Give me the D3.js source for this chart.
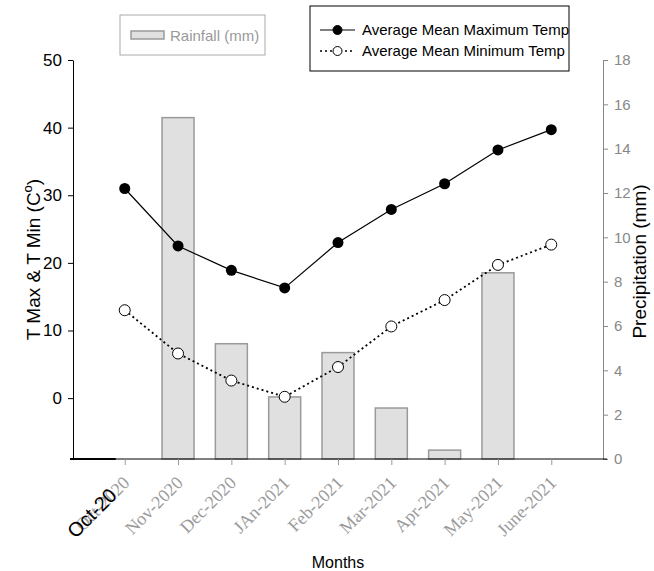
<!DOCTYPE html>
<html>
<head>
<meta charset="utf-8">
<script src="https://cdn.jsdelivr.net/npm/d3@7"></script>
<style>
  body { margin: 0; background: #fff; }
  svg { display: block; font-family: "Liberation Sans", Arial, sans-serif; }
</style>
</head>
<body>
<div id="chart"></div>
<script>
// data
const months = ['Oct-2020', 'Nov-2020', 'Dec-2020', 'JAn-2021', 'Feb-2021', 'Mar-2021', 'Apr-2021', 'May-2021', 'June-2021'];
const rainfall = [0, 15.4, 5.2, 2.8, 4.8, 2.3, 0.4, 8.4, 0];
const tMax = [31.0, 22.5, 18.9, 16.3, 23.0, 27.9, 31.7, 36.7, 39.7];
const tMin = [13.0, 6.6, 2.6, 0.2, 4.6, 10.6, 14.5, 19.7, 22.7];
const tempTicks = [0, 10, 20, 30, 40, 50];
const rainTicks = [0, 2, 4, 6, 8, 10, 12, 14, 16, 18];

const W = 654, H = 571;
const plot = { left: 73, right: 603, top: 60, bottom: 459 };
const BAR_W = 32;

const svg = d3.select('#chart').append('svg')
  .attr('width', W)
  .attr('height', H);

const x = d3.scalePoint()
  .domain(months)
  .range([plot.left, plot.right])
  .padding(0.97);

const yTemp = d3.scaleLinear().domain([-9, 50]).range([plot.bottom, plot.top]);
const yRain = d3.scaleLinear().domain([0, 18]).range([plot.bottom, plot.top]);

// bars (right axis)
svg.append('g')
  .selectAll('rect')
  .data(rainfall.map((v, i) => ({ m: months[i], v })).filter(d => d.v > 0))
  .join('rect')
  .attr('x', d => x(d.m) - BAR_W / 2)
  .attr('y', d => yRain(d.v))
  .attr('width', BAR_W)
  .attr('height', d => plot.bottom - yRain(d.v))
  .attr('fill', '#e0e0e0')
  .attr('stroke', '#9a9a9a')
  .attr('stroke-width', 1.5);

// left axis
const leftAxis = svg.append('g')
  .attr('transform', `translate(${plot.left},0)`)
  .call(d3.axisLeft(yTemp).tickValues(tempTicks).tickSize(5).tickPadding(6).tickSizeOuter(0));
leftAxis.selectAll('text').attr('font-size', 17).attr('fill', '#000').style('font-family', '"Liberation Sans", Arial, sans-serif');
leftAxis.select('.domain').attr('stroke', '#000');

// right axis
const rightAxis = svg.append('g')
  .attr('transform', `translate(${plot.right},0)`)
  .call(d3.axisRight(yRain).tickValues(rainTicks).tickSize(5).tickPadding(6).tickSizeOuter(5));
rightAxis.selectAll('text').attr('font-size', 15).attr('fill', '#888').style('font-family', '"Liberation Sans", Arial, sans-serif');
rightAxis.selectAll('line').attr('stroke', '#888');
rightAxis.select('.domain').attr('stroke', '#888');

// bottom axis
const bottomAxis = svg.append('g')
  .attr('transform', `translate(0,${plot.bottom})`)
  .call(d3.axisBottom(x).tickSize(6).tickSizeOuter(0).tickFormat(''));
bottomAxis.selectAll('.tick line').attr('stroke', '#999');
bottomAxis.select('.domain').attr('stroke', '#000').attr('d', `M${plot.left - 3},0H${plot.right + 4}`);
// the darker stub at the left end of the x axis
svg.append('line')
  .attr('x1', plot.left - 3).attr('x2', x(months[0]) - 9)
  .attr('y1', plot.bottom).attr('y2', plot.bottom)
  .attr('stroke', '#000').attr('stroke-width', 2);

// rotated month labels
const LABEL_DY = 25;
const labels = svg.append('g').selectAll('text')
  .data(months)
  .join('text')
  .attr('transform', d => `translate(${x(d) + 6},${plot.bottom + LABEL_DY}) rotate(-45)`)
  .attr('text-anchor', 'end')
  .attr('font-family', '"Liberation Serif", "Times New Roman", serif')
  .attr('font-size', 18)
  .attr('fill', '#9a9a9a')
  .text(d => d);

// the first label has a black overprint on its first part
const firstNode = labels.filter((d, i) => i === 0).node();
const fullLen = firstNode.getComputedTextLength();
const partLen = firstNode.getSubStringLength(0, 6);
svg.append('text')
  .attr('transform', `translate(${x(months[0]) + 6},${plot.bottom + LABEL_DY}) rotate(-45)`)
  .attr('x', -(fullLen - partLen))
  .attr('text-anchor', 'end')
  .attr('font-size', 20)
  .attr('fill', '#000')
  .text(months[0].slice(0, 6));

// temperature lines
const tempLine = d3.line().x((d, i) => x(months[i])).y(d => yTemp(d));
svg.append('path')
  .datum(tMax)
  .attr('d', tempLine)
  .attr('fill', 'none')
  .attr('stroke', '#000')
  .attr('stroke-width', 1.2);
svg.append('path')
  .datum(tMin)
  .attr('d', tempLine)
  .attr('fill', 'none')
  .attr('stroke', '#000')
  .attr('stroke-width', 1.8)
  .attr('stroke-dasharray', '2,3');

svg.append('g').selectAll('circle')
  .data(tMax)
  .join('circle')
  .attr('cx', (d, i) => x(months[i]))
  .attr('cy', d => yTemp(d))
  .attr('r', 5.5)
  .attr('fill', '#000');
svg.append('g').selectAll('circle')
  .data(tMin)
  .join('circle')
  .attr('cx', (d, i) => x(months[i]))
  .attr('cy', d => yTemp(d))
  .attr('r', 5.5)
  .attr('fill', '#fff')
  .attr('stroke', '#000')
  .attr('stroke-width', 1);

// axis titles
svg.append('text')
  .attr('transform', `translate(40,${(plot.top + plot.bottom) / 2}) rotate(-90)`)
  .attr('text-anchor', 'middle')
  .attr('font-size', 19)
  .html('T Max &amp; T Min (C<tspan dy="-8" font-size="13">o</tspan><tspan dy="8">)</tspan>');
svg.append('text')
  .attr('transform', `translate(646,${(plot.top + plot.bottom) / 2 + 2}) rotate(-90)`)
  .attr('text-anchor', 'middle')
  .attr('font-size', 19)
  .text('Precipitation (mm)');
svg.append('text')
  .attr('x', (plot.left + plot.right) / 2)
  .attr('y', 568)
  .attr('text-anchor', 'middle')
  .attr('font-size', 16)
  .text('Months');

// rainfall legend
const lg1 = svg.append('g');
lg1.append('rect').attr('x', 120).attr('y', 15).attr('width', 145).attr('height', 40)
  .attr('fill', '#fff').attr('stroke', '#aaa');
lg1.append('rect').attr('x', 131).attr('y', 31).attr('width', 33).attr('height', 8)
  .attr('fill', '#e0e0e0').attr('stroke', '#9a9a9a').attr('stroke-width', 1.5);
lg1.append('text').attr('x', 170).attr('y', 41).attr('font-size', 15).attr('fill', '#999')
  .text('Rainfall (mm)');

// temperature legend
const lg2 = svg.append('g');
lg2.append('rect').attr('x', 310).attr('y', 6).attr('width', 259).attr('height', 65)
  .attr('fill', '#fff').attr('stroke', '#000');
const legendItems = [
  { label: 'Average Mean Maximum Temp', fill: '#000', dash: null, y: 30 },
  { label: 'Average Mean Minimum Temp', fill: '#fff', dash: '2,3', y: 51 }
];
legendItems.forEach(it => {
  lg2.append('line').attr('x1', 320).attr('x2', 355).attr('y1', it.y).attr('y2', it.y)
    .attr('stroke', '#000').attr('stroke-width', it.dash ? 1.5 : 1.2)
    .attr('stroke-dasharray', it.dash);
  lg2.append('circle').attr('cx', 337.5).attr('cy', it.y).attr('r', 4.5)
    .attr('fill', it.fill).attr('stroke', '#000');
  lg2.append('text').attr('x', 362).attr('y', it.y + 5).attr('font-size', 15)
    .text(it.label);
});
</script>
</body>
</html>
